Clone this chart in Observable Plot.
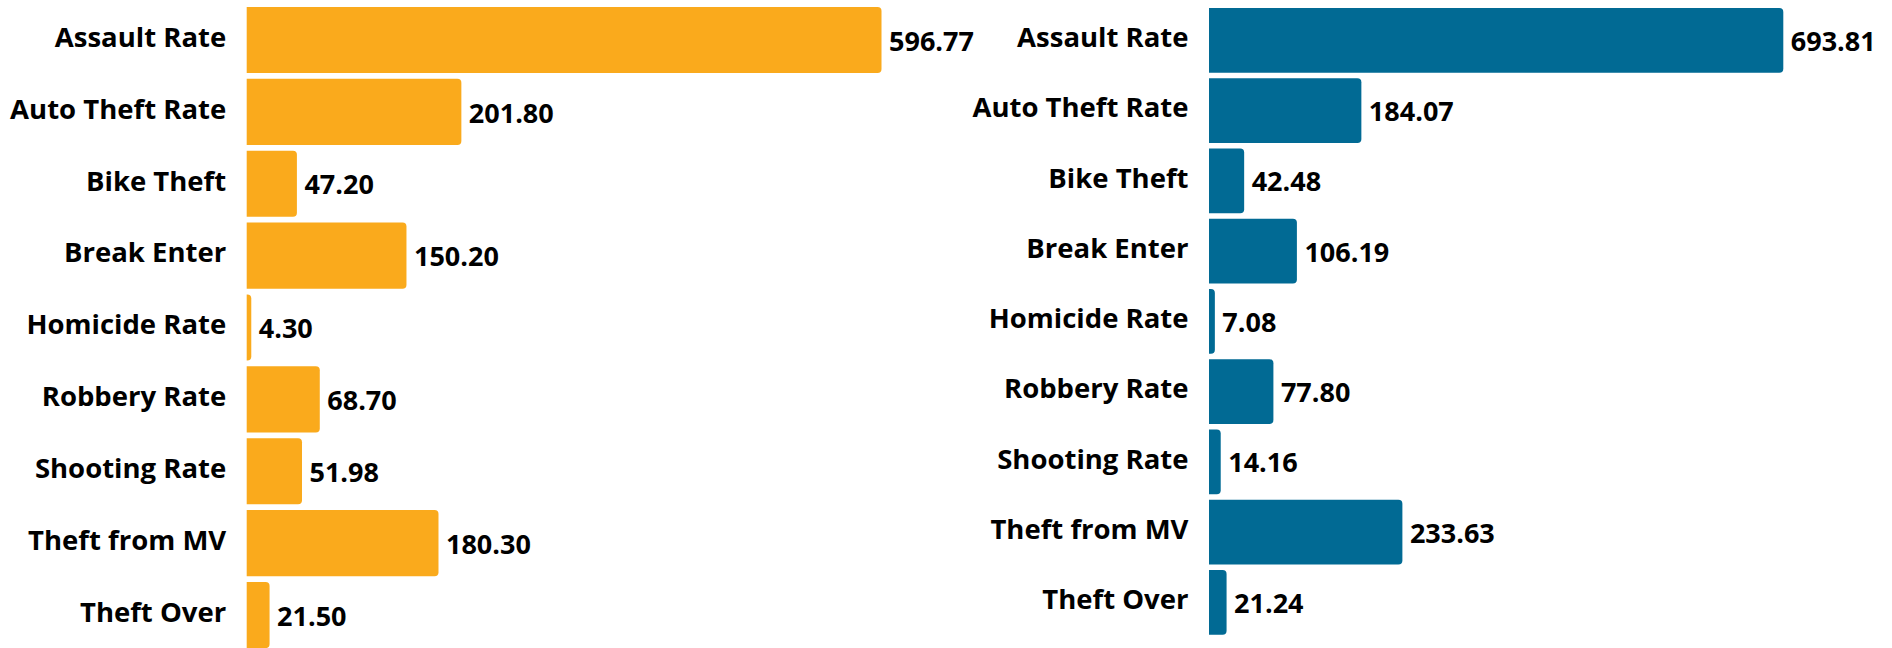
<!DOCTYPE html>
<html><head><meta charset="utf-8">
<script src="https://cdn.jsdelivr.net/npm/d3@7"></script>
<script src="https://cdn.jsdelivr.net/npm/@observablehq/plot@0.6"></script>
<style>
html,body{margin:0;padding:0;background:#fff;overflow:hidden;}
#wrap{display:flex;align-items:flex-start;width:1892px;height:648px;overflow:hidden;}
#wrap svg{overflow:visible;display:block;flex:none;}
</style></head><body><div id="wrap"></div>
<script>
const categories = ["Assault Rate","Auto Theft Rate","Bike Theft","Break Enter","Homicide Rate","Robbery Rate","Shooting Rate","Theft from MV","Theft Over"];
const leftValues = [596.77, 201.80, 47.20, 150.20, 4.30, 68.70, 51.98, 180.30, 21.50];
const rightValues = [693.81, 184.07, 42.48, 106.19, 7.08, 77.80, 14.16, 233.63, 21.24];
const leftColor = "#FAAA1C";
const rightColor = "#016A94";

function panel(values, color, opts) {
  const data = categories.map((c, i) => ({cat: c, value: values[i]}));
  const svg = Plot.plot({
    width: opts.width,
    height: opts.height,
    marginLeft: opts.xRange[0],
    marginRight: opts.width - opts.xRange[1],
    marginTop: 0,
    marginBottom: 0,
    style: {fontFamily: "'Open Sans', sans-serif", fontSize: "27.5px", fontWeight: 700, color: "#000", background: "transparent", overflow: "visible"},
    x: {domain: [0, d3.max(values)], range: opts.xRange, axis: null},
    y: {domain: categories, padding: 0.08, round: false, range: opts.yRange, label: null},
    marks: [
      Plot.axisY({tickSize: 0, tickPadding: 21, fontSize: 27.5, fontWeight: 700, dy: -2.5, label: null}),
      Plot.barX(data, {x: "value", y: "cat", fill: color, rx2: 4}),
      Plot.text(data, {x: "value", y: "cat", text: d => d.value.toFixed(2), textAnchor: "start", dx: 7, dy: 1.5, fill: "#000", fontSize: 27, fontWeight: 700})
    ]
  });
  svg.style.width = opts.width + "px";
  svg.style.height = opts.height + "px";
  svg.style.maxWidth = "none";
  return svg;
}

const wrap = document.getElementById("wrap");
wrap.append(panel(leftValues, leftColor, {width: 970, height: 654, xRange: [246.7, 881.5], yRange: [1.25, 653.85]}));
wrap.append(panel(rightValues, rightColor, {width: 922, height: 641, xRange: [239, 813.3], yRange: [2.4, 640.3]}));
</script></body></html>
